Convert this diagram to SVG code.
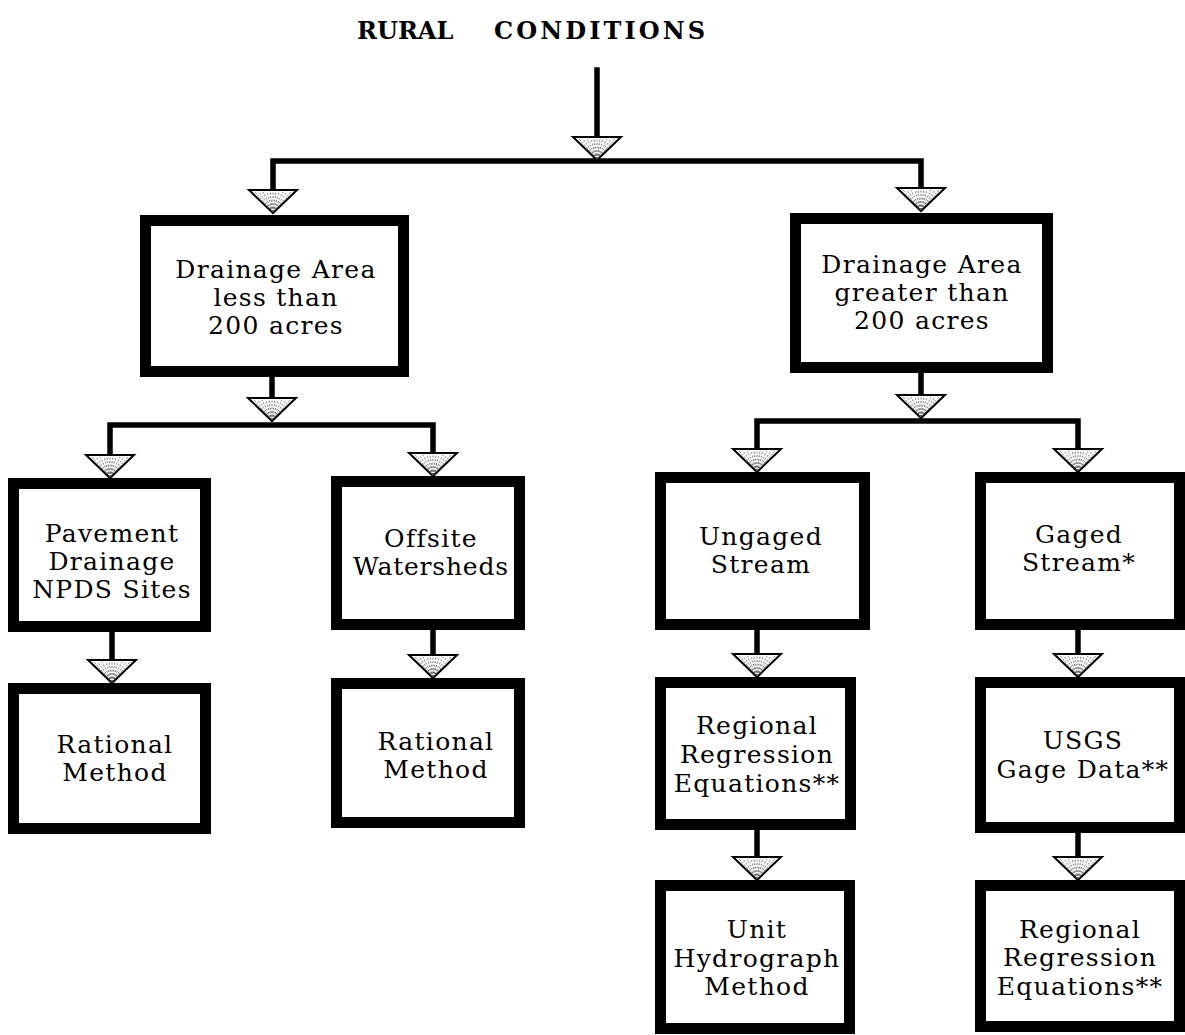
<svg xmlns="http://www.w3.org/2000/svg" xmlns:xlink="http://www.w3.org/1999/xlink" width="1185" height="1035" viewBox="0 0 1185 1035">
<style>
.box{fill:#fff;stroke:#000;stroke-width:11}
.t{font-family:"DejaVu Serif","Liberation Serif",serif;font-size:25px;letter-spacing:1.3px;text-anchor:middle;fill:#000}
.title{font-family:"DejaVu Serif","Liberation Serif",serif;font-size:24px;font-weight:bold;fill:#000}
.ln{fill:none;stroke:#000;stroke-width:5.5;stroke-linecap:square}
.tri{fill:#fff;stroke:#000;stroke-width:2;stroke-linejoin:miter}
.hatch{stroke:#555;stroke-width:0.8;stroke-dasharray:2 1.5}
</style>
<defs>
<g id="arr">
<polygon class="tri" points="-24,-23 24,-23 0,0"/>
<g class="hatch">
<line x1="0" y1="-1" x2="-18" y2="-21"/>
<line x1="0" y1="-1" x2="-14" y2="-21"/>
<line x1="0" y1="-1" x2="-10" y2="-21"/>
<line x1="0" y1="-1" x2="-6" y2="-21"/>
<line x1="0" y1="-1" x2="-3" y2="-21"/>
<line x1="0" y1="-1" x2="0" y2="-21"/>
<line x1="0" y1="-1" x2="3" y2="-21"/>
<line x1="0" y1="-1" x2="6" y2="-21"/>
<line x1="0" y1="-1" x2="10" y2="-21"/>
<line x1="0" y1="-1" x2="14" y2="-21"/>
<line x1="0" y1="-1" x2="18" y2="-21"/>
</g>
</g>
</defs>
<rect width="1185" height="1035" fill="#fff"/>
<text class="title" y="39"><tspan x="357">RURAL</tspan><tspan x="494" style="letter-spacing:3.1px">CONDITIONS</tspan></text>

<g id="connectors">
<path class="ln" d="M597,70 V140"/>
<path class="ln" d="M273,190 V161 H921 V190"/>
<path class="ln" d="M272,377 V400"/>
<path class="ln" d="M110,455 V425 H433 V455"/>
<path class="ln" d="M112,632 V662"/>
<path class="ln" d="M433,630 V658"/>
<path class="ln" d="M921,373 V398"/>
<path class="ln" d="M757,452 V421 H1078 V452"/>
<path class="ln" d="M757,630 V656"/>
<path class="ln" d="M1078,630 V656"/>
<path class="ln" d="M757,830 V858"/>
<path class="ln" d="M1078,833 V858"/>
<use xlink:href="#arr" x="597" y="160"/>
<use xlink:href="#arr" x="273" y="213"/>
<use xlink:href="#arr" x="921" y="211"/>
<use xlink:href="#arr" x="272" y="421"/>
<use xlink:href="#arr" x="110" y="478"/>
<use xlink:href="#arr" x="433" y="476"/>
<use xlink:href="#arr" x="112" y="683"/>
<use xlink:href="#arr" x="433" y="678"/>
<use xlink:href="#arr" x="921" y="418"/>
<use xlink:href="#arr" x="757" y="472"/>
<use xlink:href="#arr" x="1078" y="472"/>
<use xlink:href="#arr" x="757" y="677"/>
<use xlink:href="#arr" x="1078" y="677"/>
<use xlink:href="#arr" x="757" y="880"/>
<use xlink:href="#arr" x="1078" y="880"/>
</g>

<g id="n_less">
<rect class="box" x="145.5" y="220.5" width="258" height="151"/>
<text class="t" x="276" y="278">Drainage Area</text>
<text class="t" x="276" y="306">less than</text>
<text class="t" x="276" y="334">200 acres</text>
</g>
<g id="n_greater">
<rect class="box" x="795.5" y="218.5" width="252" height="149"/>
<text class="t" x="922" y="273">Drainage Area</text>
<text class="t" x="922" y="301">greater than</text>
<text class="t" x="922" y="329">200 acres</text>
</g>
<g id="n_pavement">
<rect class="box" x="13.5" y="483.5" width="192" height="143"/>
<text class="t" x="112" y="542">Pavement</text>
<text class="t" x="112" y="570">Drainage</text>
<text class="t" x="112" y="598">NPDS Sites</text>
</g>
<g id="n_offsite">
<rect class="box" x="336.5" y="481.5" width="183" height="143"/>
<text class="t" x="431" y="547">Offsite</text>
<text class="t" x="431" y="575" style="letter-spacing:0.8px">Watersheds</text>
</g>
<g id="n_rational1">
<rect class="box" x="13.5" y="688.5" width="192" height="140"/>
<text class="t" x="115" y="753">Rational</text>
<text class="t" x="115" y="781">Method</text>
</g>
<g id="n_rational2">
<rect class="box" x="336.5" y="683.5" width="183" height="139"/>
<text class="t" x="436" y="750">Rational</text>
<text class="t" x="436" y="778">Method</text>
</g>
<g id="n_ungaged">
<rect class="box" x="660.5" y="477.5" width="204" height="147"/>
<text class="t" x="761" y="545">Ungaged</text>
<text class="t" x="761" y="573">Stream</text>
</g>
<g id="n_gaged">
<rect class="box" x="980.5" y="477.5" width="199" height="147"/>
<text class="t" x="1079" y="543">Gaged</text>
<text class="t" x="1079" y="571">Stream*</text>
</g>
<g id="n_regional1">
<rect class="box" x="660.5" y="682.5" width="190" height="142"/>
<text class="t" x="757" y="734">Regional</text>
<text class="t" x="757" y="763">Regression</text>
<text class="t" x="757" y="792">Equations**</text>
</g>
<g id="n_usgs">
<rect class="box" x="980.5" y="682.5" width="199" height="145"/>
<text class="t" x="1083" y="749">USGS</text>
<text class="t" x="1083" y="778">Gage Data**</text>
</g>
<g id="n_unit">
<rect class="box" x="660.5" y="885.5" width="189" height="143"/>
<text class="t" x="757" y="938">Unit</text>
<text class="t" x="757" y="967">Hydrograph</text>
<text class="t" x="757" y="995">Method</text>
</g>
<g id="n_regional2">
<rect class="box" x="980.5" y="885.5" width="199" height="141"/>
<text class="t" x="1080" y="938">Regional</text>
<text class="t" x="1080" y="966">Regression</text>
<text class="t" x="1080" y="995">Equations**</text>
</g>
</svg>
